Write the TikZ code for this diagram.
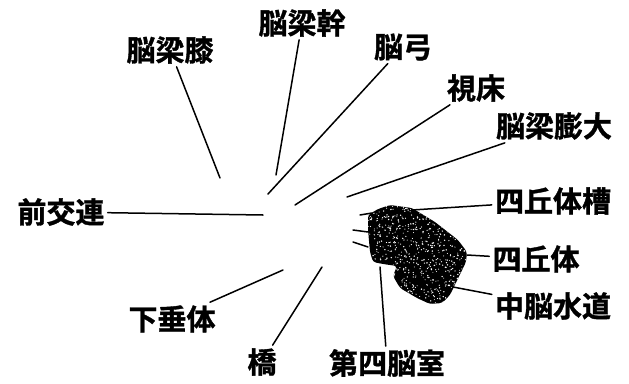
\documentclass[tikz,border=0pt]{standalone}
\usepackage{fontspec}
\newfontfamily\jpfont{Noto Sans CJK JP}[BoldFont={* Bold}, BoldFeatures={FakeBold=1.2}]
\begin{document}
\begin{tikzpicture}[x=1pt,y=-1pt,
  lbl/.style={font=\jpfont\bfseries\fontsize{29}{30}\selectfont, inner sep=3pt},
  leader/.style={line width=1.5pt, line cap=round}]
\useasboundingbox (0,0) rectangle (629,383);

% labels
\node[lbl] (knee)   at (170,50)  {脳梁膝};
\node[lbl] (trunk)  at (302,23)  {脳梁幹};
\node[lbl] (fornix) at (403,47)  {脳弓};
\node[lbl] (thal)   at (476,88)  {視床};
\node[lbl] (splen)  at (554,126) {脳梁膨大};
\node[lbl] (ac)     at (61,212)  {前交連};
\node[lbl] (pit)    at (172,319) {下垂体};
\node[lbl] (pons)   at (262,362) {橋};
\node[lbl] (v4)     at (387,363) {第四脳室};
\node[lbl] (qcist)  at (553,201) {四丘体槽};
\node[lbl] (quad)   at (536,259) {四丘体};
\node[lbl] (aq)     at (553,306) {中脳水道};

% free ends of the leaders
\coordinate (pKnee)   at (220,178);
\coordinate (pTrunk)  at (276,175);
\coordinate (pFornix) at (268,194);
\coordinate (pThal)   at (295,205);
\coordinate (pSplen)  at (347,197);
\coordinate (pAc)     at (263,215);
\coordinate (pPit)    at (283,270);
\coordinate (pPons)   at (322,267);
\coordinate (pV4)     at (380,267);
\coordinate (pQcist)  at (412,210);
\coordinate (pQuad)   at (467,255);
\coordinate (pAq)     at (453,287);

% midbrain block, stippled
\begin{scope}
  \path[clip, rounded corners=3pt]
    (368,215) -- (378,209) -- (390,205) -- (412,208) -- (435,222) -- (458,240)
    -- (467,252) -- (466,262) -- (450,295) -- (442,303) -- (430,304) -- (417,298)
    -- (400,288) -- (393,276) -- (397,266) -- (383,264) -- (373,262) -- (370,252)
    -- (368,230) -- cycle;
  \fill[black] (360,200) rectangle (475,310);
  \pgfmathsetseed{11}
  \foreach \i in {1,...,900} {
    \pgfmathsetmacro\px{417+55*rand}
    \pgfmathsetmacro\py{255+52*rand}
    \pgfmathsetmacro\pr{0.45+0.35*rnd}
    \fill[white] (\px,\py) circle (\pr pt);
  }
\end{scope}

% leaders
\draw[leader] (knee)   -- (pKnee);
\draw[leader] (trunk)  -- (pTrunk);
\draw[leader] (fornix) -- (pFornix);
\draw[leader] (thal)   -- (pThal);
\draw[leader] (splen)  -- (pSplen);
\draw[leader] (ac)     -- (pAc);
\draw[leader] (pit)    -- (pPit);
\draw[leader] (pons)   -- (pPons);
\draw[leader] (v4)     -- (pV4);
\draw[leader] (qcist)  -- (pQcist);
\draw[leader] (quad)   -- (pQuad);
\draw[leader] (aq)     -- (pAq);

% short ticks on the left edge of the block
\coordinate (t1a) at (360,215); \coordinate (t1b) at (372,213);
\coordinate (t2a) at (353,230); \coordinate (t2b) at (368,232);
\coordinate (t3a) at (353,242); \coordinate (t3b) at (368,247);
\draw[leader] (t1a) -- (t1b);
\draw[leader] (t2a) -- (t2b);
\draw[leader] (t3a) -- (t3b);
\end{tikzpicture}
\end{document}
